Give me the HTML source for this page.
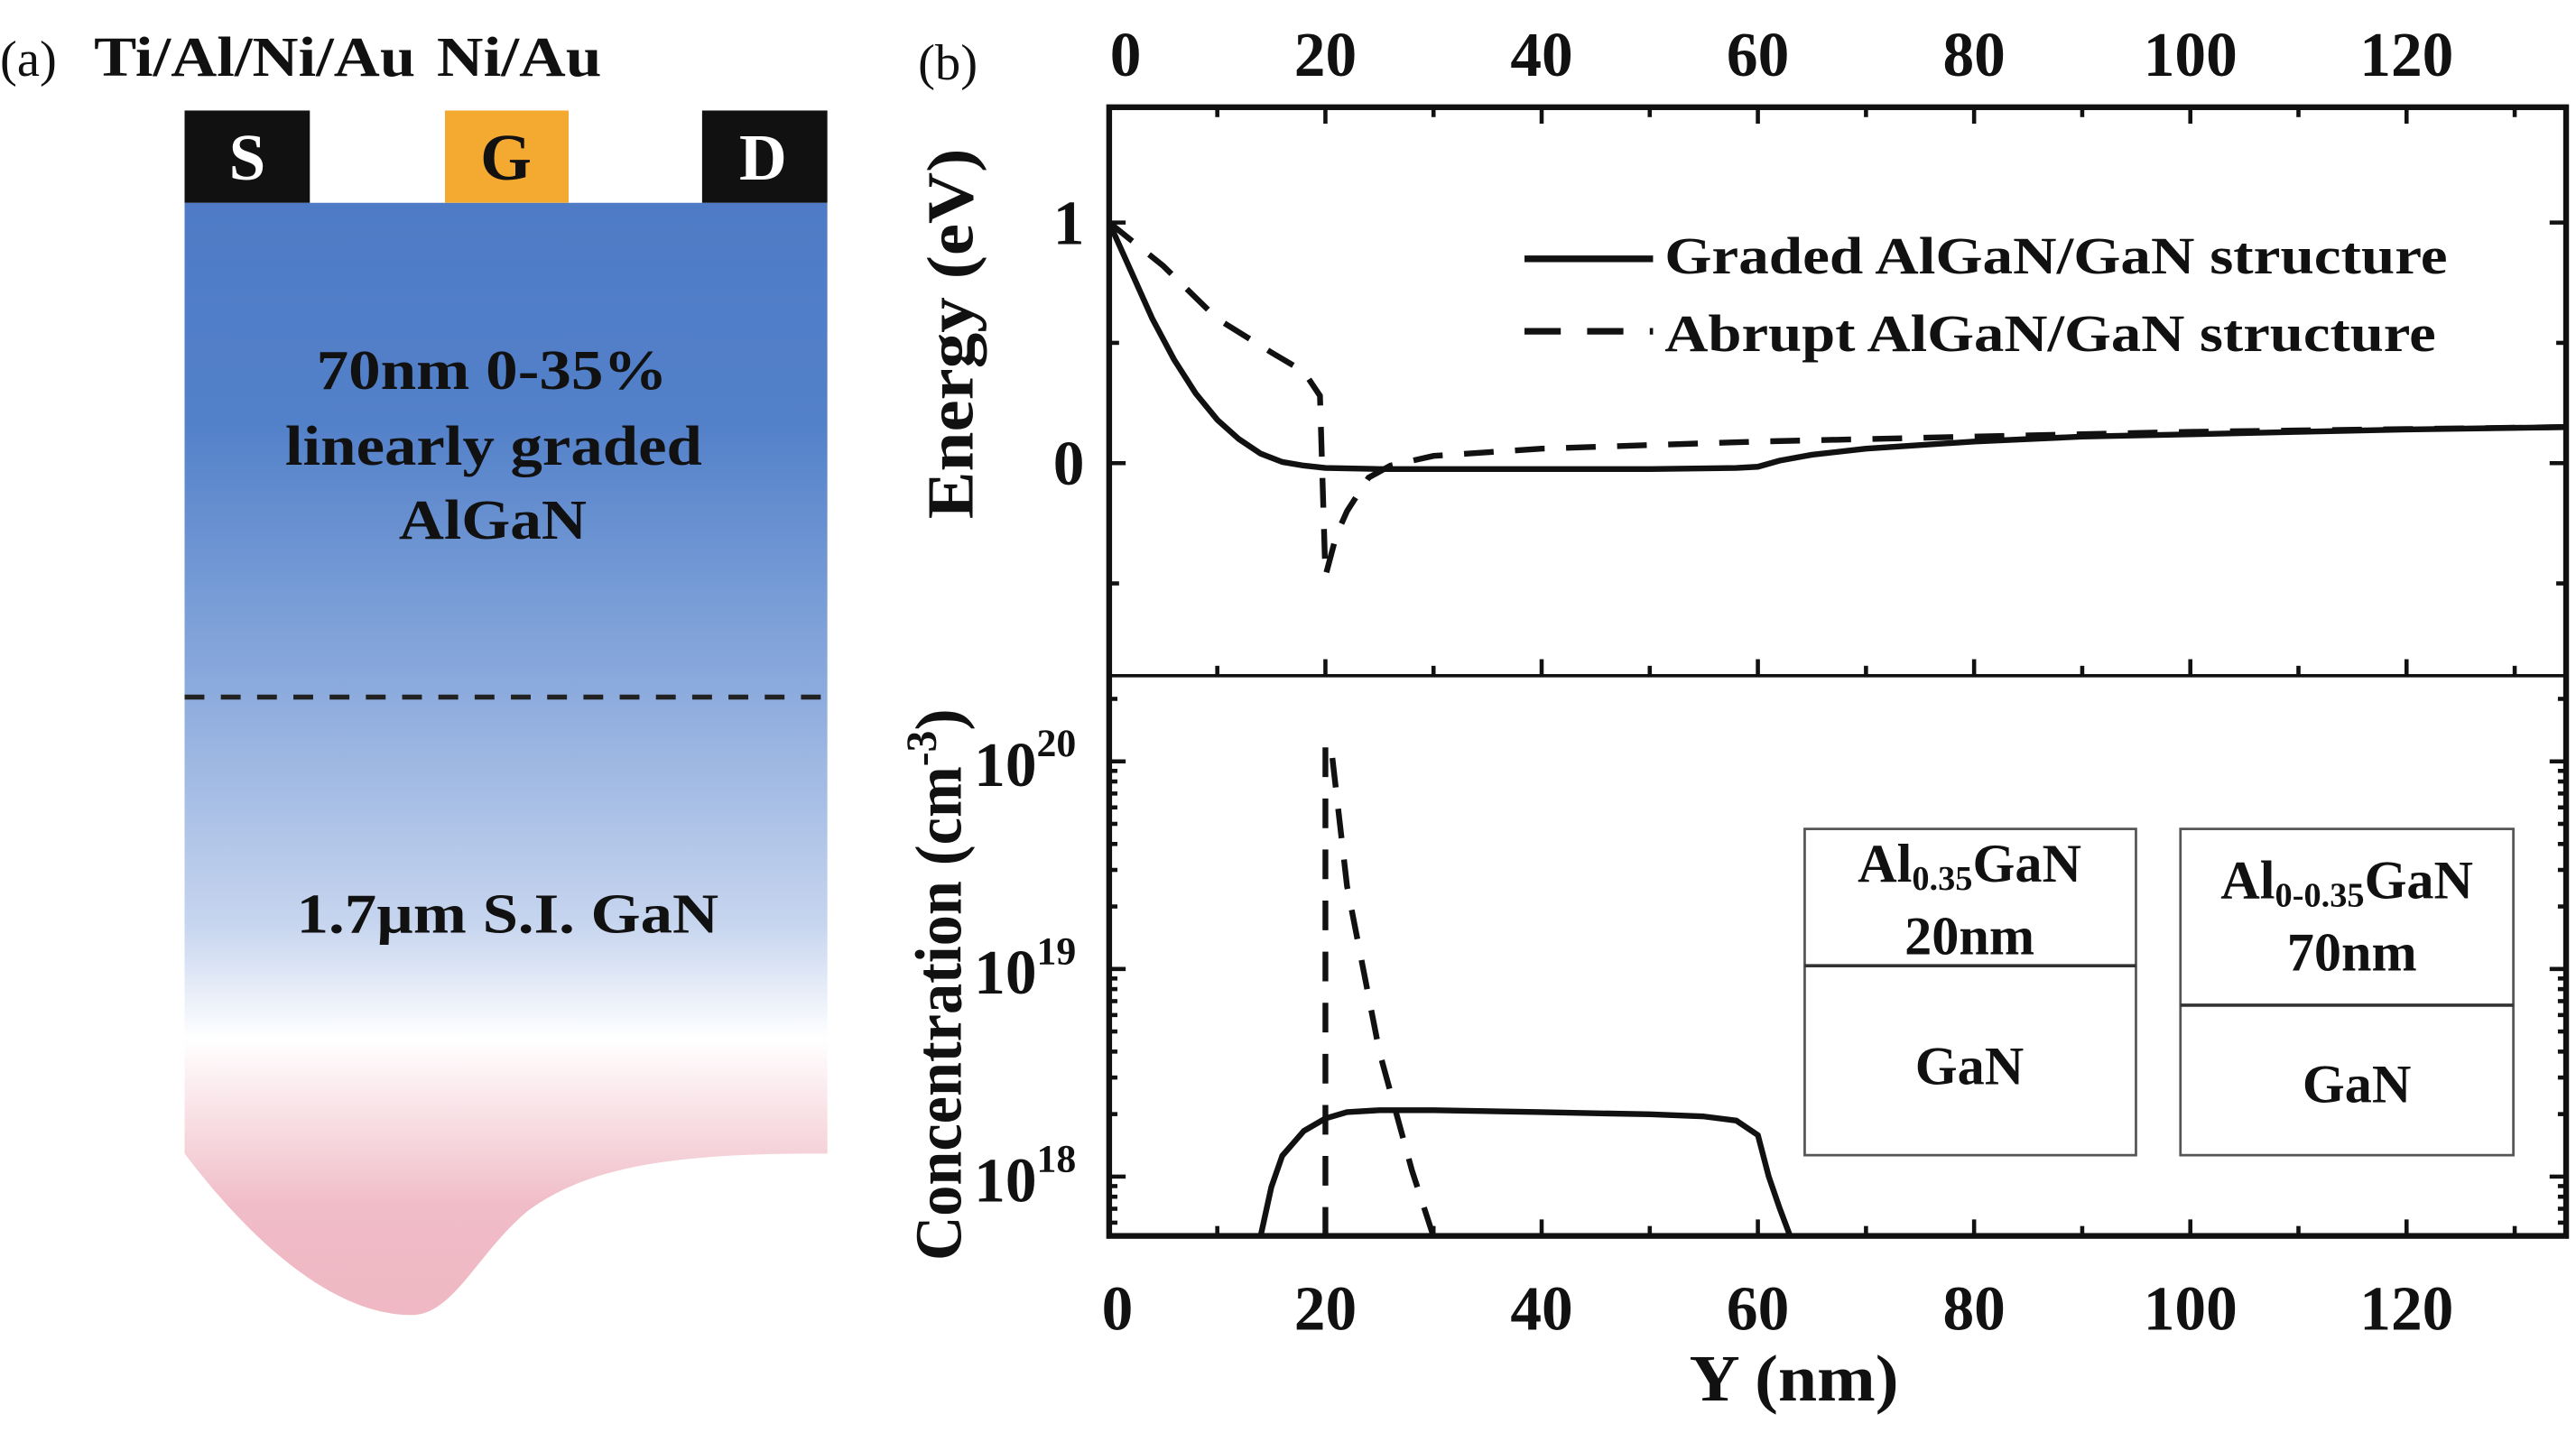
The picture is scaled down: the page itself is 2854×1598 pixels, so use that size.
<!DOCTYPE html>
<html><head><meta charset="utf-8"><style>
html,body{margin:0;padding:0;background:#fff;}
svg{display:block;}
text{font-family:"Liberation Serif",serif;font-weight:bold;fill:#111;}
</style></head><body>
<svg id="fig" width="2854" height="1598" viewBox="0 0 1563 875" xmlns="http://www.w3.org/2000/svg">
<defs>
<linearGradient id="g1" x1="0" y1="123" x2="0" y2="800" gradientUnits="userSpaceOnUse">
<stop offset="0" stop-color="#4f7bc6"/>
<stop offset="0.2" stop-color="#5381c9"/>
<stop offset="0.45" stop-color="#8fadde"/>
<stop offset="0.65" stop-color="#c8d6ef"/>
<stop offset="0.75" stop-color="#ffffff"/>
<stop offset="0.9" stop-color="#f0bcc7"/>
<stop offset="1" stop-color="#efb8c3"/>
</linearGradient>
</defs>
<g>
<text x="0" y="46" font-size="31" style="font-weight:normal">(a)</text>
<text x="57" y="46" font-size="34" textLength="195" lengthAdjust="spacingAndGlyphs">Ti/Al/Ni/Au</text>
<text x="265" y="46" font-size="34" textLength="100" lengthAdjust="spacingAndGlyphs">Ni/Au</text>
<path d="M112,123 L502,123 L502,700 C420,700 360,705 320,735 C290,760 275,798 250,798 C200,798 150,750 112,700 Z" fill="url(#g1)"/>
<line x1="112" y1="423" x2="502" y2="423" stroke="#222" stroke-width="3" stroke-dasharray="12,10"/>
<rect x="112" y="67" width="76" height="56" fill="#111"/>
<rect x="270" y="67" width="75" height="56" fill="#f4a930"/>
<rect x="426" y="67" width="76" height="56" fill="#111"/>
<text x="150" y="109" font-size="40" text-anchor="middle" style="fill:#fff">S</text>
<text x="307" y="109" font-size="40" text-anchor="middle">G</text>
<text x="463" y="109" font-size="40" text-anchor="middle" style="fill:#fff">D</text>
<text x="192" y="236" font-size="34" textLength="213" lengthAdjust="spacingAndGlyphs">70nm 0-35%</text>
<text x="173" y="282" font-size="34" textLength="253" lengthAdjust="spacingAndGlyphs">linearly graded</text>
<text x="242" y="327" font-size="34" textLength="114" lengthAdjust="spacingAndGlyphs">AlGaN</text>
<text x="180" y="566" font-size="34" textLength="256" lengthAdjust="spacingAndGlyphs">1.7µm S.I. GaN</text>
</g>
<text x="557" y="48" font-size="31" style="font-weight:normal">(b)</text>
<g id="chart"></g>
<g>
<line x1="925" y1="157" x2="1003" y2="157" stroke="#111" stroke-width="4"/>
<text x="1010" y="166" font-size="32" textLength="475" lengthAdjust="spacingAndGlyphs">Graded AlGaN/GaN structure</text>
<line x1="925" y1="201" x2="1003" y2="201" stroke="#111" stroke-width="4" stroke-dasharray="22,16"/>
<text x="1010" y="213" font-size="32" textLength="468" lengthAdjust="spacingAndGlyphs">Abrupt AlGaN/GaN structure</text>
</g>
<g>
<rect x="1095" y="503" width="201" height="198" fill="#fff" stroke="#555" stroke-width="1.5"/>
<line x1="1095" y1="586" x2="1296" y2="586" stroke="#333" stroke-width="2"/>
<text x="1195" y="535" font-size="33" text-anchor="middle">Al<tspan font-size="21" dy="5">0.35</tspan><tspan dy="-5">GaN</tspan></text>
<text x="1195" y="579" font-size="33" text-anchor="middle">20nm</text>
<text x="1195" y="658" font-size="33" text-anchor="middle">GaN</text>
</g>
<g>
<rect x="1323" y="503" width="202" height="198" fill="#fff" stroke="#555" stroke-width="1.5"/>
<line x1="1323" y1="610" x2="1525" y2="610" stroke="#333" stroke-width="2"/>
<text x="1424" y="545" font-size="33" text-anchor="middle">Al<tspan font-size="21" dy="5">0-0.35</tspan><tspan dy="-5">GaN</tspan></text>
<text x="1427" y="589" font-size="33" text-anchor="middle">70nm</text>
<text x="1430" y="669" font-size="33" text-anchor="middle">GaN</text>
</g>
</svg>
<script>
const xTicks=[0,20,40,60,80,100,120];
const eTicks=[0,1];
const cTicks=[18,19,20];
const gradedX=[0,2,4,6,8,10,12,14,16,18,20,25,30,40,50,58,60,62,65,70,80,90,100,110,120,135];
const gradedE=[1.0,0.8,0.6,0.43,0.29,0.18,0.1,0.04,0.005,-0.01,-0.02,-0.025,-0.025,-0.025,-0.025,-0.02,-0.015,0.01,0.035,0.06,0.09,0.11,0.12,0.13,0.14,0.15];
const abruptX=[0,5,10,15,18,19.5,20,21,22,24,26,30,40,60,80,100,135];
const abruptE=[1.0,0.82,0.6,0.46,0.38,0.28,-0.47,-0.3,-0.2,-0.06,-0.01,0.03,0.06,0.09,0.11,0.13,0.15];
const gradedCX=[14,15,16,18,20,22,25,30,40,50,55,58,60,61,62,63];
const gradedC=[17.71,17.95,18.1,18.22,18.28,18.31,18.32,18.32,18.31,18.3,18.29,18.27,18.2,18.0,17.85,17.71];
const abruptCX=[20,20,20.5,22,25,28,30];
const abruptC=[17.71,20.08,20.08,19.4,18.6,18.03,17.71];

const L=673,R=1557,T=65,M=410,B=750;
const sx=v=>L+v*6.56;
const sE=v=>281-v*146;
const sC=v=>714-(v-18)*126;
const NS='http://www.w3.org/2000/svg';
const g=document.getElementById('chart');
function mk(tag,at){const e=document.createElementNS(NS,tag);for(const k in at)e.setAttribute(k,at[k]);g.appendChild(e);return e;}
function pth(xs,ys,sy){return xs.map((x,i)=>(i?'L':'M')+sx(Math.min(x,134.8)).toFixed(1)+','+sy(ys[i]).toFixed(1)).join(' ');}

let e=mk('path',{d:pth(gradedX,gradedE,sE),fill:'none',stroke:'#111','stroke-width':3.5,'stroke-linejoin':'round'});


e=mk('path',{d:pth(abruptX,abruptE,sE),fill:'none',stroke:'#111','stroke-width':3.5,'stroke-dasharray':'18,13'});


e=mk('path',{d:pth(gradedCX,gradedC,sC),fill:'none',stroke:'#111','stroke-width':3.5,'stroke-linejoin':'round'});


e=mk('path',{d:pth(abruptCX,abruptC,sC),fill:'none',stroke:'#111','stroke-width':3.5,'stroke-dasharray':'18,13'});



e=mk('rect',{x:L,y:T,width:R-L,height:B-T,fill:'none',stroke:'#111','stroke-width':3.5});


e=mk('line',{x1:L,y1:M,x2:R,y2:M,stroke:'#111','stroke-width':2});



for(let v=0;v<=130;v+=10){
 const x=sx(v),len=v%20===0?10:6;
 [[T,T+len],[B,B-len],[M,M-len]].forEach(p=>{mk('line',{x1:x,y1:p[0],x2:x,y2:p[1],stroke:'#111','stroke-width':2.5});});
}
xTicks.forEach(v=>{
 let t=mk('text',{x:sx(v)+(v===0?10:0),y:46,'font-size':38,'text-anchor':'middle'});t.textContent=v;
 
 
 t=mk('text',{x:sx(v)+(v===0?5:0),y:807,'font-size':38,'text-anchor':'middle'});t.textContent=v;
 
 
});
[-0.5,0,0.5,1].forEach(v=>{const y=sE(v),len=Number.isInteger(v)?10:6;mk('line',{x1:L,y1:y,x2:L+len,y2:y,stroke:'#111','stroke-width':2.5});mk('line',{x1:R,y1:y,x2:R-len,y2:y,stroke:'#111','stroke-width':2.5});});
eTicks.forEach(v=>{const t=mk('text',{x:658,y:sE(v)+13,'font-size':38,'text-anchor':'end'});t.textContent=v;
 
 });
for(let d=17;d<=20;d++){for(let m=1;m<10;m++){const v=d+Math.log10(m);if(v<17.71||v>20.4)continue;const y=sC(v),len=m===1?10:5;mk('line',{x1:L,y1:y,x2:L+len,y2:y,stroke:'#111','stroke-width':2.5});mk('line',{x1:R,y1:y,x2:R-len,y2:y,stroke:'#111','stroke-width':2.5});}}
cTicks.forEach(v=>{const t=mk('text',{x:591,y:sC(v)+15,'font-size':38});t.innerHTML='10<tspan font-size="24" dy="-18">'+v+'</tspan>';
 
 });

let t=mk('text',{x:1025,y:850,'font-size':40,textLength:127,lengthAdjust:'spacingAndGlyphs'});t.textContent='Y (nm)';


t=mk('text',{x:-315,y:0,'font-size':40,textLength:225,lengthAdjust:'spacingAndGlyphs',transform:'translate(590,0) rotate(-90)'});t.textContent='Energy (eV)';


t=mk('text',{x:-765,y:0,'font-size':40,transform:'translate(583,0) rotate(-90)'});t.innerHTML='<tspan textLength="300" lengthAdjust="spacingAndGlyphs">Concentration (cm</tspan><tspan font-size="26" dy="-15">-3</tspan><tspan dy="15">)</tspan>';


</script>
</body></html>
